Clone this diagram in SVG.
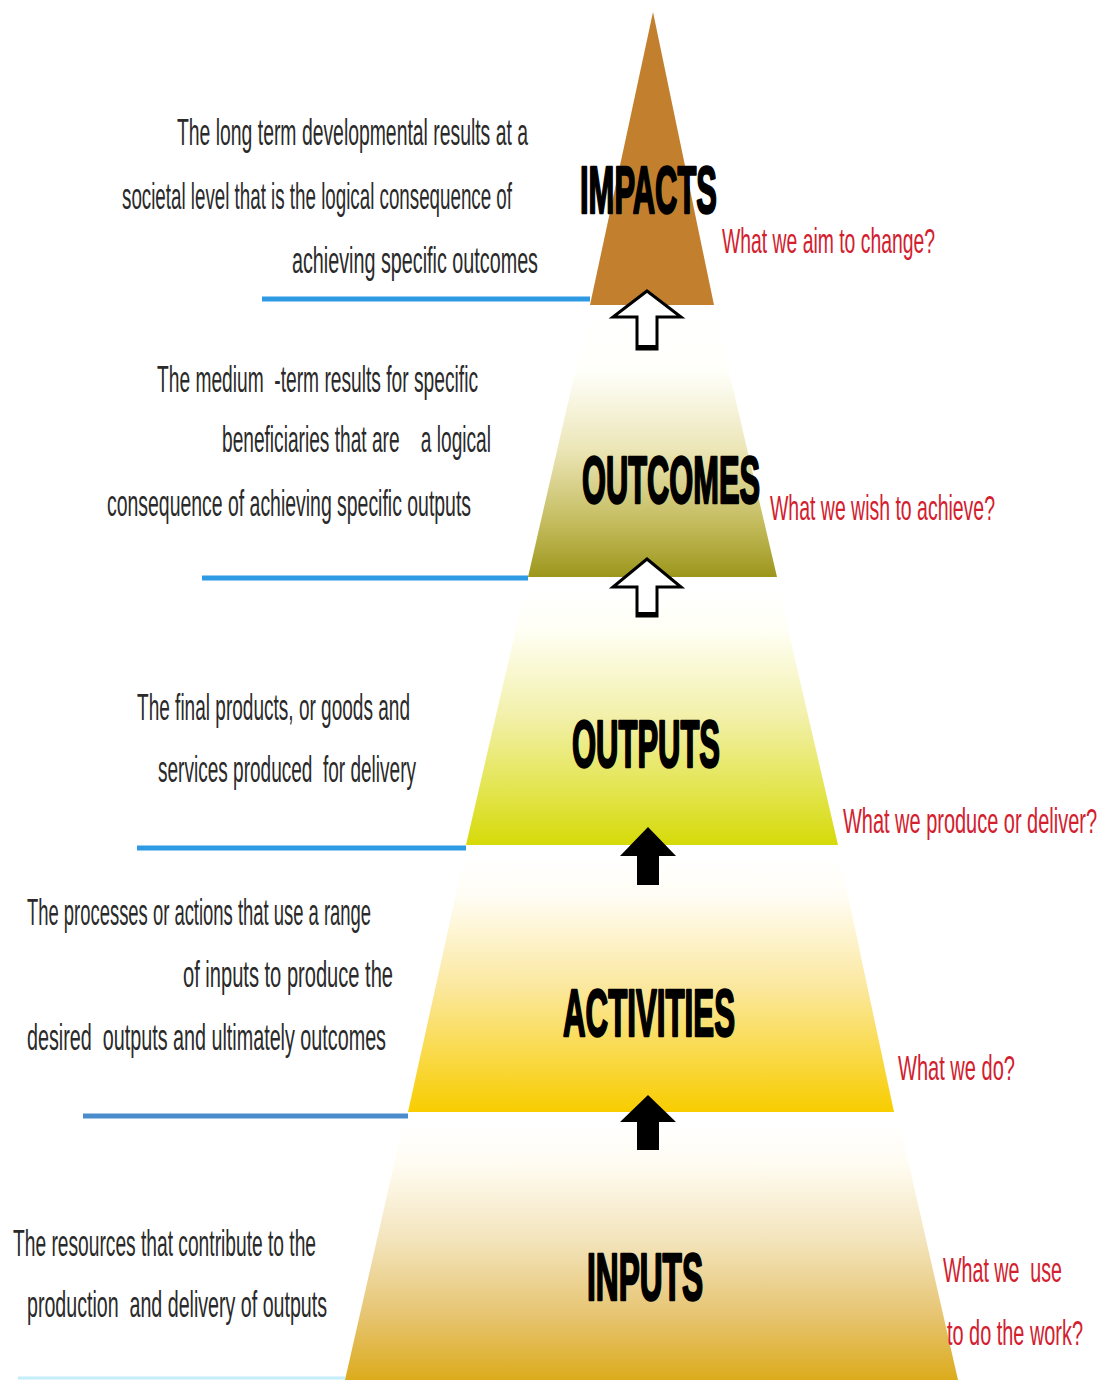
<svg xmlns="http://www.w3.org/2000/svg" width="1102" height="1380" viewBox="0 0 1102 1380">
<defs>
<linearGradient id="gOutcomes" x1="0" y1="0" x2="0" y2="1">
<stop offset="0" stop-color="#ffffff"/>
<stop offset="0.2" stop-color="#fffffa"/>
<stop offset="0.5" stop-color="#ece6b8"/>
<stop offset="0.8" stop-color="#c2ba5a"/>
<stop offset="1" stop-color="#9c961c"/>
</linearGradient>
<linearGradient id="gOutputs" x1="0" y1="0" x2="0" y2="1">
<stop offset="0" stop-color="#ffffff"/>
<stop offset="0.15" stop-color="#fffff6"/>
<stop offset="0.5" stop-color="#f2f0a8"/>
<stop offset="0.8" stop-color="#e2e44a"/>
<stop offset="1" stop-color="#d6da08"/>
</linearGradient>
<linearGradient id="gActivities" x1="0" y1="0" x2="0" y2="1">
<stop offset="0" stop-color="#ffffff"/>
<stop offset="0.15" stop-color="#fffdf4"/>
<stop offset="0.5" stop-color="#fbe8a0"/>
<stop offset="0.8" stop-color="#f9d840"/>
<stop offset="1" stop-color="#f8cd00"/>
</linearGradient>
<linearGradient id="gInputs" x1="0" y1="0" x2="0" y2="1">
<stop offset="0" stop-color="#ffffff"/>
<stop offset="0.15" stop-color="#fffcf2"/>
<stop offset="0.45" stop-color="#f3e4bc"/>
<stop offset="0.75" stop-color="#e6c470"/>
<stop offset="1" stop-color="#dcab1c"/>
</linearGradient>
</defs>
<style>
.lbl{font-family:"Liberation Sans",Arial,sans-serif;font-weight:bold;font-size:66px;fill:#000;stroke:#000;stroke-width:2.5px;stroke-linejoin:round}
.desc{font-family:"Liberation Sans Narrow","Liberation Sans",Arial,sans-serif;font-size:36px;fill:#2a2a2a;white-space:pre}
.q{font-family:"Liberation Sans Narrow","Liberation Sans",Arial,sans-serif;font-size:35px;fill:#d2202e;white-space:pre}
.sep{stroke:#2f9ae4;stroke-width:5;fill:none}
.hollow{fill:#ffffff;stroke:#000;stroke-width:3;stroke-linejoin:miter}
.solid{fill:#000;stroke:none}
</style>
<rect width="1102" height="1380" fill="#ffffff"/>

<g id="inputs">
<polygon points="403,1125 900,1125 958,1380 345,1380" fill="url(#gInputs)"/>
<text class="lbl" x="587" y="1300" textLength="116" lengthAdjust="spacingAndGlyphs">INPUTS</text>
<text class="desc" x="13" y="1256" textLength="303" lengthAdjust="spacingAndGlyphs">The resources that contribute to the</text>
<text class="desc" x="27" y="1317" textLength="300" lengthAdjust="spacingAndGlyphs">production  and delivery of outputs</text>
<text class="q" x="943" y="1282" textLength="119" lengthAdjust="spacingAndGlyphs">What we  use</text>
<text class="q" x="947" y="1345" textLength="136" lengthAdjust="spacingAndGlyphs">to do the work?</text>
<line x1="18" y1="1378" x2="345" y2="1378" stroke="#c4eefa" stroke-width="3"/>
</g>

<g id="activities">
<polygon points="464,858 840,858 894,1112 408,1112" fill="url(#gActivities)"/>
<text class="lbl" x="563" y="1036" textLength="172" lengthAdjust="spacingAndGlyphs">ACTIVITIES</text>
<text class="desc" x="27" y="925" textLength="344" lengthAdjust="spacingAndGlyphs">The processes or actions that use a range</text>
<text class="desc" x="183" y="987" textLength="210" lengthAdjust="spacingAndGlyphs">of inputs to produce the</text>
<text class="desc" x="27" y="1050" textLength="359" lengthAdjust="spacingAndGlyphs">desired  outputs and ultimately outcomes</text>
<text class="q" x="898" y="1080" textLength="117" lengthAdjust="spacingAndGlyphs">What we do?</text>
<line class="sep" x1="83" y1="1116" x2="408" y2="1116" style="stroke:#4a8ccc"/>
</g>

<g id="outputs">
<polygon points="525,590 779,590 838,845 466,845" fill="url(#gOutputs)"/>
<text class="lbl" x="572" y="767" textLength="148" lengthAdjust="spacingAndGlyphs">OUTPUTS</text>
<text class="desc" x="137" y="720" textLength="273" lengthAdjust="spacingAndGlyphs">The final products, or goods and</text>
<text class="desc" x="158" y="782" textLength="258" lengthAdjust="spacingAndGlyphs">services produced  for delivery</text>
<text class="q" x="843" y="833" textLength="254" lengthAdjust="spacingAndGlyphs">What we produce or deliver?</text>
<line class="sep" x1="137" y1="848" x2="466" y2="848"/>
</g>

<g id="outcomes">
<polygon points="587,320 717,320 777,577 528,577" fill="url(#gOutcomes)"/>
<text class="lbl" x="582" y="503" textLength="178" lengthAdjust="spacingAndGlyphs">OUTCOMES</text>
<text class="desc" x="157" y="392" textLength="321" lengthAdjust="spacingAndGlyphs">The medium  -term results for specific</text>
<text class="desc" x="222" y="452" textLength="269" lengthAdjust="spacingAndGlyphs">beneficiaries that are    a logical</text>
<text class="desc" x="107" y="516" textLength="364" lengthAdjust="spacingAndGlyphs">consequence of achieving specific outputs</text>
<text class="q" x="770" y="520" textLength="225" lengthAdjust="spacingAndGlyphs">What we wish to achieve?</text>
<line class="sep" x1="202" y1="578" x2="528" y2="578"/>
</g>

<g id="impacts">
<polygon points="653,12 714,305 590,305" fill="#c2802e"/>
<text class="lbl" x="580" y="213" textLength="137" lengthAdjust="spacingAndGlyphs">IMPACTS</text>
<text class="desc" x="177" y="145" textLength="351" lengthAdjust="spacingAndGlyphs">The long term developmental results at a</text>
<text class="desc" x="122" y="209" textLength="390" lengthAdjust="spacingAndGlyphs">societal level that is the logical consequence of</text>
<text class="desc" x="292" y="273" textLength="246" lengthAdjust="spacingAndGlyphs">achieving specific outcomes</text>
<text class="q" x="722" y="253" textLength="213" lengthAdjust="spacingAndGlyphs">What we aim to change?</text>
<line class="sep" x1="262" y1="299" x2="590" y2="299"/>
</g>

<g id="connectors">
<polygon class="hollow" points="647,291 681,317 657,317 657,349 637,349 637,317 613,317"/>
<line x1="637" y1="347" x2="657" y2="347" stroke="#000" stroke-width="4"/>
<polygon class="hollow" points="647,559 681,587 657,587 657,616 637,616 637,587 613,587"/>
<line x1="637" y1="614" x2="657" y2="614" stroke="#000" stroke-width="4"/>
<polygon class="solid" points="648,827 676,856 659,856 659,885 637,885 637,856 620,856"/>
<polygon class="solid" points="648,1095 676,1122 659,1122 659,1150 637,1150 637,1122 620,1122"/>
</g>
</svg>
